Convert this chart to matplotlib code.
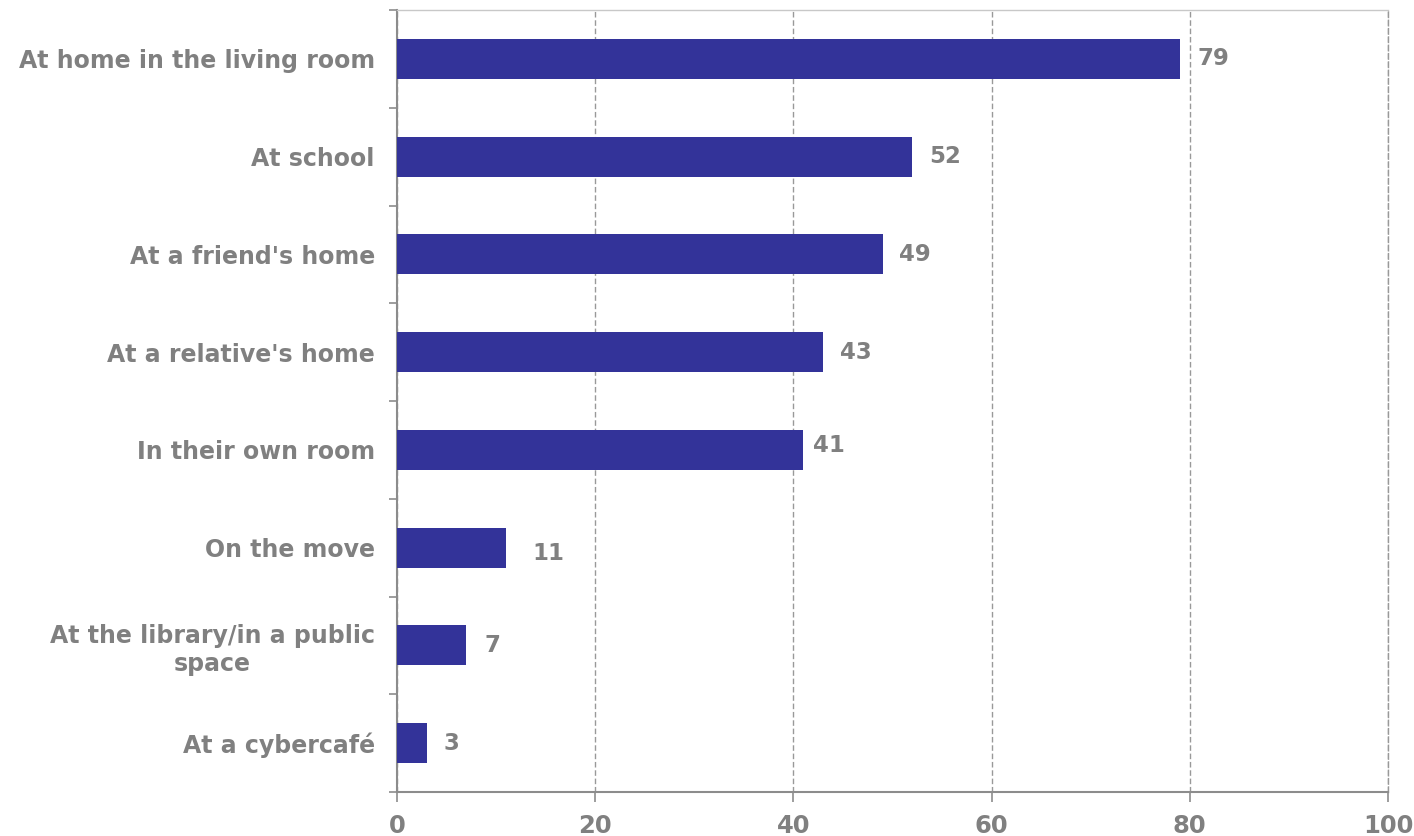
import matplotlib
matplotlib.use("Agg")
import matplotlib.pyplot as plt

categories = [
    "At home in the living room",
    "At school",
    "At a friend's home",
    "At a relative's home",
    "In their own room",
    "On the move",
    "At the library/in a public\nspace",
    "At a cybercafé",
]
values = [79, 52, 49, 43, 41, 11, 7, 3]
x_ticks = [0, 20, 40, 60, 80, 100]

# small per-label nudges (points) for the value annotations
label_dx = [13, 12, 12, 12, 7, 19, 13, 12]
label_dy = [0, 0, 0, 0, 3, -4, 0, 0]

BAR = "#333399"
TEXT = "#808080"
AXIS = "#8c8c8c"

plt.rcParams["font.family"] = ["DejaVu Sans"]
fig = plt.figure(figsize=(14.14, 8.36), dpi=100)
ax = fig.add_axes([0.2808, 0.0526, 0.7008, 0.9354])

n = len(categories)
ypos = list(range(n))
ax.barh(ypos, values, height=0.41, color=BAR, zorder=3)
ax.set_ylim(n - 0.5, -0.5)
ax.set_xlim(0, 100)

for i, v in enumerate(values):
    ax.annotate(str(v), xy=(v, i), xytext=(label_dx[i], label_dy[i]),
                textcoords="offset points", va="center", ha="left",
                fontsize=16.5, fontweight="bold", color=TEXT, zorder=4)

ax.set_yticks(ypos)
ax.set_yticklabels(categories, fontsize=17, fontweight="bold", color=TEXT,
                   ha="right", multialignment="center")
ax.tick_params(axis="y", length=0, pad=16)
# category boundary ticks on the value axis
ax.set_yticks([k - 0.5 for k in range(n + 1)], minor=True)
ax.tick_params(axis="y", which="minor", length=6, width=1.2, color=AXIS, direction="out")

ax.set_xticks(x_ticks)
ax.set_xticklabels([str(t) for t in x_ticks], fontsize=17.5, fontweight="bold", color=TEXT)
ax.tick_params(axis="x", length=7, width=1.2, color=AXIS, direction="out", pad=9)

ax.grid(axis="x", linestyle=(0, (4, 2)), color="#999999", linewidth=1.0, zorder=1)
ax.set_axisbelow(True)

for side in ["left", "bottom"]:
    ax.spines[side].set_color(AXIS)
    ax.spines[side].set_linewidth(1.5)
ax.spines["top"].set_color("#c8c8c8")
ax.spines["top"].set_linewidth(1.0)
ax.spines["right"].set_color("#999999")
ax.spines["right"].set_linewidth(1.0)
ax.spines["right"].set_linestyle((0, (4, 2)))

fig.savefig("out.png", dpi=100)
